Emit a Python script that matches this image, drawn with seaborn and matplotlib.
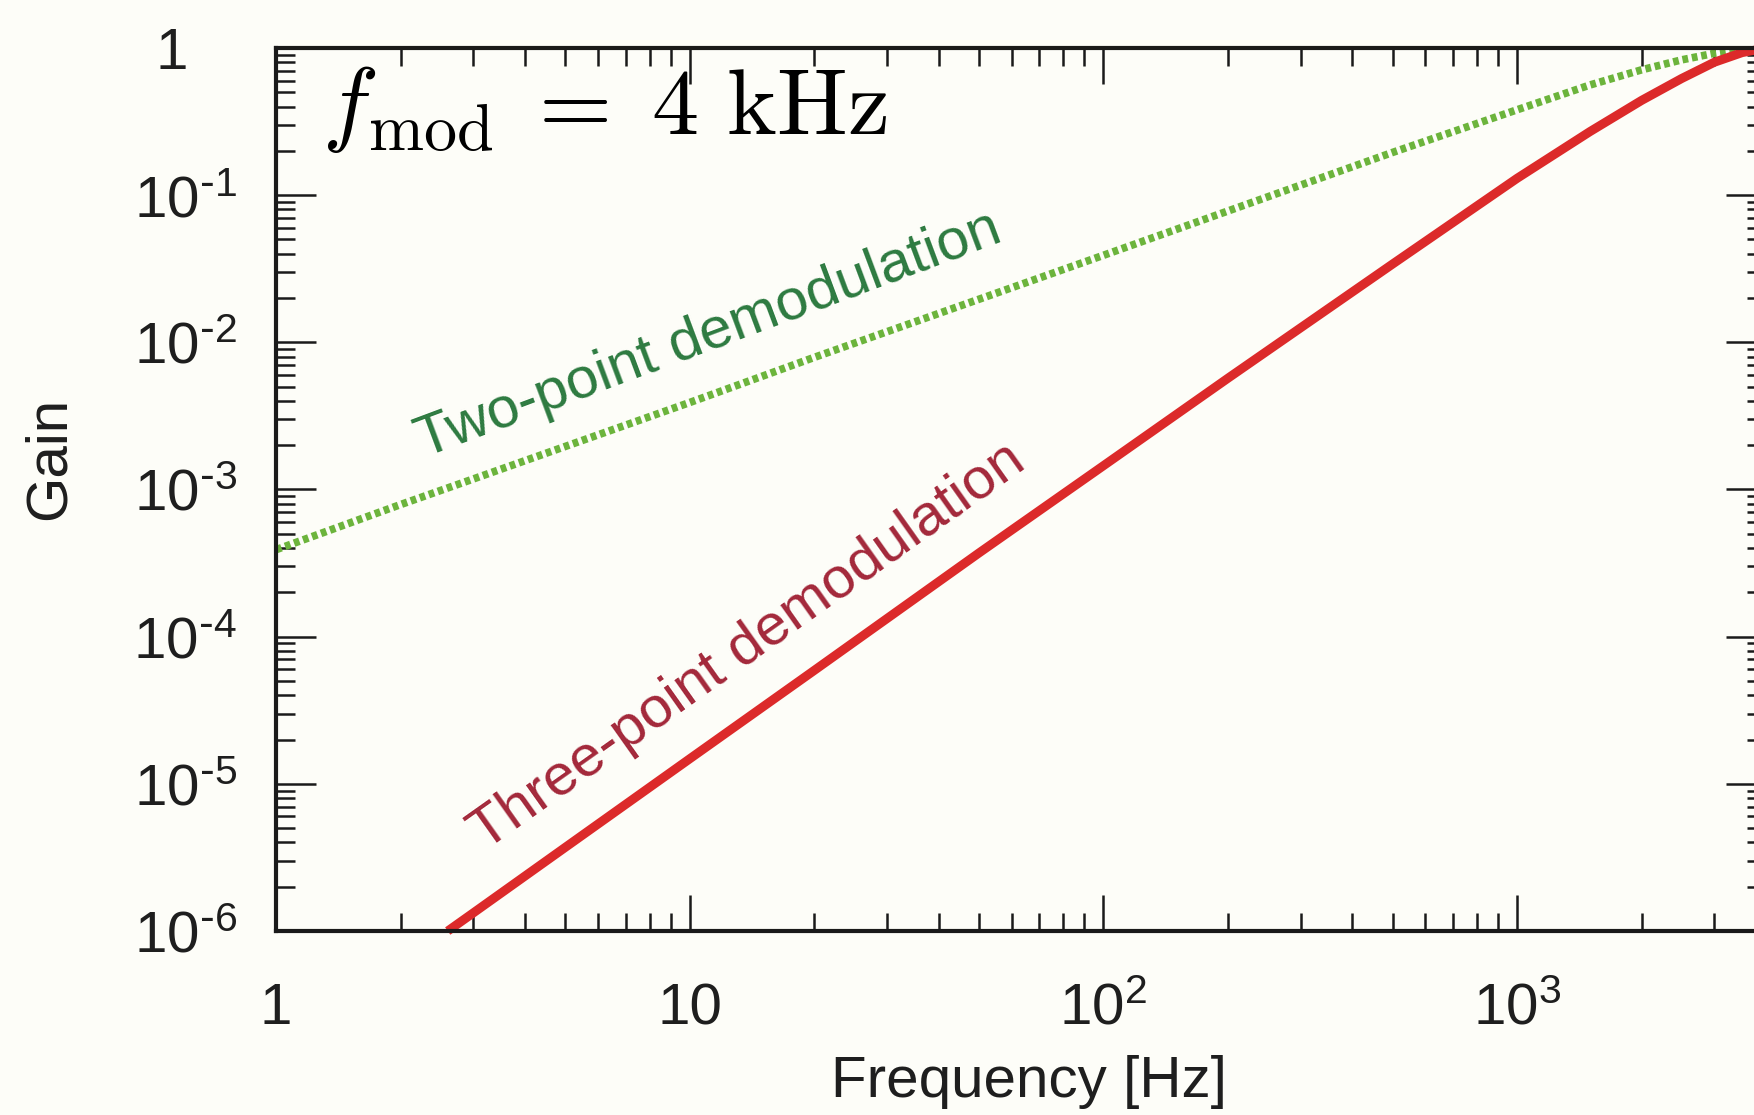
import matplotlib
matplotlib.use("Agg")
import matplotlib.pyplot as plt
import matplotlib.ticker as mticker
import seaborn as sns
import numpy as np

# ---- data ----
freq_two = [1, 2, 3, 5, 10, 20, 50, 100, 200, 500, 1000, 1500, 2000, 2500, 3000, 3500, 4000]
gain_two = [3.9e-4, 7.9e-4, 1.18e-3, 1.96e-3, 3.9e-3, 7.9e-3, 1.96e-2, 3.9e-2, 7.8e-2,
            0.195, 0.38, 0.56, 0.71, 0.83, 0.92, 0.98, 1.0]

freq_three = [2.6, 3, 5, 10, 20, 50, 100, 200, 500, 1000, 1500, 2000, 2500, 3000, 3500, 4000]
gain_three = [1.0e-6, 1.33e-6, 3.7e-6, 1.48e-5, 5.9e-5, 3.7e-4, 1.45e-3, 5.7e-3, 3.4e-2,
              0.13, 0.27, 0.44, 0.62, 0.80, 0.93, 1.0]

x_ticks = [1, 10, 100, 1000]
x_tick_labels = ["1", "10", r"$\mathregular{10^{2}}$", r"$\mathregular{10^{3}}$"]
y_ticks = [1e-6, 1e-5, 1e-4, 1e-3, 1e-2, 1e-1, 1]
y_tick_labels = [r"$\mathregular{10^{\text{-}6}}$", r"$\mathregular{10^{\text{-}5}}$",
                 r"$\mathregular{10^{\text{-}4}}$", r"$\mathregular{10^{\text{-}3}}$",
                 r"$\mathregular{10^{\text{-}2}}$", r"$\mathregular{10^{\text{-}1}}$", "1   "]

label_two = "Two-point demodulation"
label_three = "Three-point demodulation"
title_text = r"$f_{\rm mod}\;=\;4\ {\rm kHz}$"

# ---- style ----
sns.set_style("ticks")
plt.rcParams["font.family"] = ["Liberation Sans", "DejaVu Sans"]

bg = "#fdfdf8"
fig = plt.figure(figsize=(17.54, 11.15), dpi=100)
fig.patch.set_facecolor(bg)
ax = fig.add_axes([0.1574, 0.165, 0.8495, 0.792])
ax.set_facecolor(bg)
ax.set_xscale("log")
ax.set_yscale("log")

sns.lineplot(x=freq_two, y=gain_two, ax=ax, color="#6cb43c", linewidth=5.5,
             linestyle=(0, (0.75, 0.5)), dash_capstyle="butt")
sns.lineplot(x=freq_three, y=gain_three, ax=ax, color="#dc2a2a", linewidth=6.5,
             solid_capstyle="butt", clip_on=False)

ax.set_xlim(1, 4000)
ax.set_ylim(1e-6, 1)

ax.xaxis.set_major_locator(mticker.FixedLocator(x_ticks))
ax.xaxis.set_major_formatter(mticker.FixedFormatter(x_tick_labels))
ax.yaxis.set_major_locator(mticker.FixedLocator(y_ticks))
ax.yaxis.set_major_formatter(mticker.FixedFormatter(y_tick_labels))
ax.xaxis.set_minor_locator(mticker.LogLocator(base=10, subs=np.arange(2, 10), numticks=50))
ax.yaxis.set_minor_locator(mticker.LogLocator(base=10, subs=np.arange(2, 10), numticks=50))
ax.xaxis.set_minor_formatter(mticker.NullFormatter())
ax.yaxis.set_minor_formatter(mticker.NullFormatter())

for s in ax.spines.values():
    s.set_linewidth(3)
    s.set_color("#1a1a1a")

ax.tick_params(which="both", direction="in", top=True, right=True,
               color="#1a1a1a", width=1.8, labelcolor="#1e1e1e")
ax.tick_params(axis="x", which="major", length=26, pad=67, labelsize=42)
ax.tick_params(axis="y", which="major", length=29, pad=28, labelsize=42)
ax.tick_params(axis="x", which="minor", length=13)
ax.tick_params(axis="y", which="minor", length=14)
plt.setp(ax.get_xticklabels(), va="baseline")

ax.set_xlabel("Frequency [Hz]", fontsize=42, color="#1e1e1e")
ax.set_ylabel("Gain", fontsize=42, color="#1e1e1e")
ax.xaxis.set_label_coords(0.505, -0.140)
ax.yaxis.set_label_coords(-0.134, 0.535)

ax.text(11.1, 0.0112, label_two, color="#2d7a40", fontsize=42, rotation=20.5,
        rotation_mode="anchor", ha="center", va="center")
ax.text(13.8, 8.6e-5, label_three, color="#a3283a", fontsize=42, rotation=35.3,
        rotation_mode="anchor", ha="center", va="center")
ax.text(0.031, 0.9026, title_text, transform=ax.transAxes, fontsize=68,
        math_fontfamily="cm", ha="left", va="baseline", color="black")

fig.savefig("out.png", dpi=100, facecolor=bg)
